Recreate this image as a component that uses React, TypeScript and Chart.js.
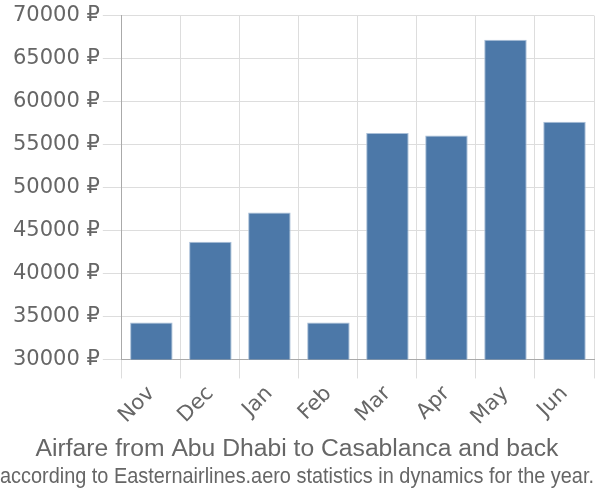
import React, { useEffect, useRef } from "react";
import { Chart, registerables } from "chart.js";

Chart.register(...registerables);

const months = ["Nov", "Dec", "Jan", "Feb", "Mar", "Apr", "May", "Jun"];
const prices = [34300, 43700, 47100, 34300, 56350, 56050, 67200, 57650];
const titleText = "Airfare from Abu Dhabi to Casablanca and back";
const subtitleText = "according to Easternairlines.aero statistics in dynamics for the year.";

export default function App() {
  const ref = useRef<HTMLCanvasElement | null>(null);
  useEffect(() => {
    document.body.style.margin = "0";
    const ctx = ref.current!;
    const chart = new Chart(ctx, {
      type: "bar",
      data: {
        labels: months,
        datasets: [
          {
            data: prices,
            backgroundColor: "#4c78a8",
            borderColor: "#a9bfd8",
            borderWidth: 1,
          },
        ],
      },
      options: {
        animation: false,
        responsive: false,
        layout: { padding: { left: 0, right: 6, top: 4, bottom: 0 } },
        plugins: {
          legend: { display: false },
          tooltip: { enabled: false },
          // subtitle plugin (lower weight) sits nearer the chart at the bottom
          subtitle: {
            display: true,
            text: titleText,
            position: "bottom",
            color: "#666",
            font: { family: "Liberation Sans, Arial, sans-serif", size: 24.7, weight: "normal" },
            padding: { top: 1, bottom: 0 },
          },
          title: {
            display: true,
            text: subtitleText,
            position: "bottom",
            color: "#666",
            font: { family: "Liberation Sans, Arial, sans-serif", size: 22, weight: "normal" },
            padding: { top: 0, bottom: 10 },
          },
        },
        scales: {
          x: {
            grid: { color: "#dddddd", tickLength: 19, lineWidth: 1 },
            border: { color: "#aaaaaa" },
            ticks: {
              color: "#666",
              font: { family: "DejaVu Sans, sans-serif", size: 21 },
              maxRotation: 45,
              minRotation: 45,
            },
          },
          y: {
            min: 30000,
            max: 70000,
            grid: { color: "#dddddd", tickLength: 19, lineWidth: 1 },
            border: { color: "#aaaaaa" },
            afterFit: (scale: any) => {
              scale.width += 10;
            },
            ticks: {
              stepSize: 5000,
              color: "#666",
              padding: 3,
              font: { family: "DejaVu Sans, sans-serif", size: 21 },
              callback: (v: any) => v + " ₽",
            },
          },
        },
      },
    });
    return () => chart.destroy();
  }, []);
  return (
    <div style={{ position: "absolute", left: 0, top: 0, width: 600, height: 500 }}>
      <canvas ref={ref} width={600} height={500} />
    </div>
  );
}
